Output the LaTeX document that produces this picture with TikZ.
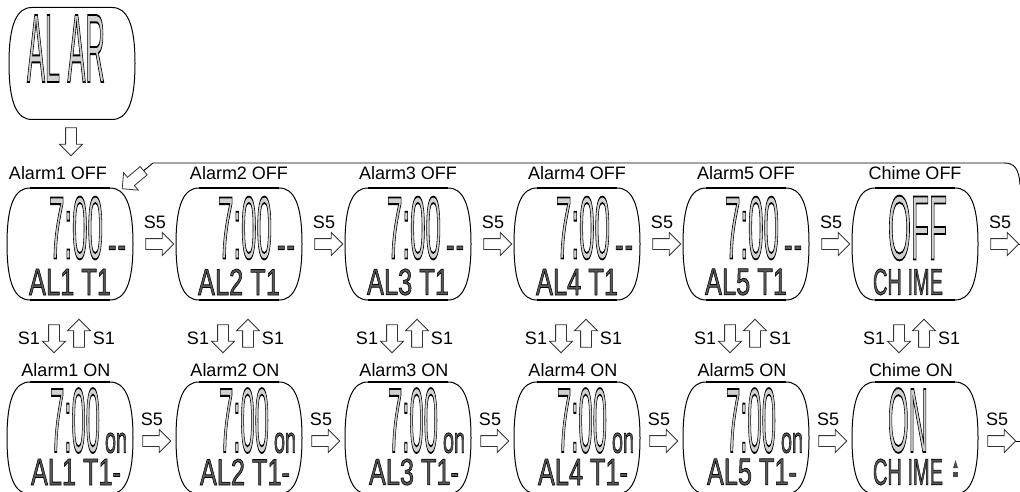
\documentclass[tikz,border=0pt]{standalone}
\usepackage{fontspec}
\setmainfont{Liberation Sans}
\newfontfamily\lcdfont[FakeBold=2]{Liberation Sans}
\usetikzlibrary{shapes.arrows}
\newcommand\stk{\special{pdf:literal direct 0 G}}
\newcommand\seg[3]{{\lcdfont\fontsize{60}{60}\selectfont\stk\resizebox{#1pt}{#2pt}{#3}}}
\tikzset{
  lbl/.style={font=\fontsize{18}{18}\selectfont, inner sep=0pt},
  lcdbox/.style={minimum width=126pt, minimum height=112pt, inner sep=0pt},
  bigseg/.style={inner sep=0pt, text=black!18},
  smallseg/.style={inner sep=0pt, text=black!65},
  blk/.style={single arrow, draw=black!80, fill=white, line width=0.8pt, minimum height=28pt,
    single arrow head extend=6pt, single arrow head indent=0pt, inner xsep=0pt, inner ysep=5pt},
  rim/.style={line width=1pt},
  link/.style={line width=0.9pt},
}
\newcommand\barrel[2][1.8pt]{%
  \begin{scope}[shift={(#2.center)}]
    \draw[rim] (-40,-56) -- (40,-56) .. controls (55,-56) and (63,-40) .. (63,0)
      .. controls (63,40) and (55,56) .. (40,56) -- (-40,56)
      .. controls (-55,56) and (-63,40) .. (-63,0)
      .. controls (-63,-40) and (-55,-56) .. (-40,-56) -- cycle;
    \draw[line width=#1] (-40,-56) -- (40,-56) (-40,56) -- (40,56);
  \end{scope}}
\begin{document}
\begin{tikzpicture}[x=1pt,y=-1pt]
\path[fill=white] (0,0) rectangle (1020,492);
\useasboundingbox (0,0) rectangle (1020,492);
% top display
\node[lcdbox] (alarm) at (72,63.5) {};
\barrel[1pt]{alarm}
\node[bigseg] (alarmtxt) at (66,48.5) {\seg{78}{67}{AL AR}};
\node[blk, rotate=-90] (adn) at (71,139) {};
% columns
\foreach \i in {1,...,6}{
  \pgfmathsetmacro\cx{70+169*(\i-1)}
  \pgfmathsetmacro\lx{\i==1 ? 58 : \cx}
  \node[lcdbox] (t\i) at (\cx,244) {};
  \node[lcdbox] (b\i) at (\cx,438) {};
  \barrel{t\i}
  \barrel{b\i}
  \ifnum\i<6
    \node[lbl] (lt\i) at (\lx,173) {Alarm\i\ OFF};
    \node[lbl] (lb\i) at (\cx-4,370) {Alarm\i\ ON};
    \node[bigseg] (dt\i) at (\cx+6,228) {\seg{54}{62}{7:00}};
    \node[smallseg] (xt\i) at (\cx+47,253) {\seg{18}{14}{-\kern3pt-}};
    \node[smallseg] (nt\i) at (\cx,282) {\seg{82}{26}{AL\i\ T1}};
    \node[bigseg] (db\i) at (\cx+5,420.5) {\seg{50}{64}{7:00}};
    \node[smallseg] (ob\i) at (\cx+46,443) {\seg{22}{20}{on}};
    \node[smallseg] (nb\i) at (\cx+6,472) {\seg{90}{26}{AL\i\ T1-}};
  \else
    \node[lbl] (lt\i) at (\cx,173) {Chime OFF};
    \node[lbl] (lb\i) at (\cx-4,370) {Chime ON};
    \node[bigseg] (dt\i) at (\cx+2.5,228) {\seg{59}{64}{OFF}};
    \node[smallseg] (nt\i) at (\cx-7,282) {\seg{70}{26}{CH IME}};
    \node[bigseg] (db\i) at (\cx-7,420.5) {\seg{40}{64}{ON}};
    \node[smallseg] (nb\i) at (\cx-7,472) {\seg{70}{26}{CH IME}};
  \fi
  \node[blk] (r\i) at (\cx+87,244) {};
  \node[lbl] (s5t\i) at (\cx+85,222) {S5};
  \node[blk] (q\i) at (\cx+84,441) {};
  \node[lbl] (s5b\i) at (\cx+82,419) {S5};
  \node[blk, rotate=-90] (sd\i) at (\cx-16,336) {};
  \node[blk, rotate=90] (su\i) at (\cx+9,336) {};
  \node[lbl] (s1l\i) at (\cx-41,338) {S1};
  \node[lbl] (s1r\i) at (\cx+34,338) {S1};
}
% bell symbol
\fill[black!70] (953,468) -- (955.5,460) -- (958,468) -- cycle;
\fill[black!70] (953,472) rectangle (958,477);
% exits
\coordinate (e1) at (1020,244);
\coordinate (e2) at (1020,441);
\draw[link] (r6.tip) -- (e1);
\draw[link] (q6.tip) -- (e2);
% return
\node[blk, rotate=220] (ret) at (135,178) {};
\coordinate (retin) at (1020,185);
\draw[link] (retin) .. controls (1019,168) and (1014,163) .. (1004,163) -- (153,163) -- (ret.tail);
\end{tikzpicture}
\end{document}
